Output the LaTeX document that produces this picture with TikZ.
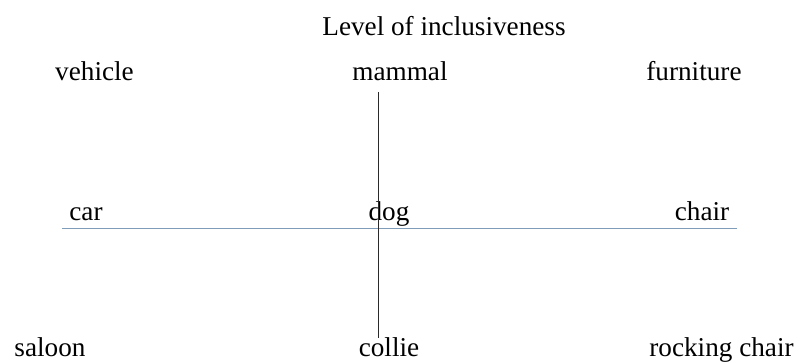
\documentclass[tikz,border=0pt]{standalone}
\usepackage{fontspec}
\setmainfont{Liberation Serif}
\definecolor{hline}{HTML}{7F9CB8}
\definecolor{vline}{HTML}{2A2A2A}
\begin{document}
\begin{tikzpicture}[x=1pt,y=-1pt,
  lbl/.style={anchor=base,inner sep=0pt,font=\fontsize{27.2}{30}\selectfont},
  axis/.style={line width=1pt}]
\useasboundingbox (0,0) rectangle (798,363);
\node[lbl] (title) at (444,36) {Level of inclusiveness};
\node[lbl] (vehicle) at (94.5,81) {vehicle};
\node[lbl] (mammal) at (400,81) {mammal};
\node[lbl] (furniture) at (694,81) {furniture};
\node[lbl] (car) at (86,221) {car};
\node[lbl] (dog) at (389,221) {dog};
\node[lbl] (chair) at (702,221) {chair};
\node[lbl] (saloon) at (50,356) {saloon};
\node[lbl] (collie) at (389,356) {collie};
\node[lbl] (rocking) at (721.5,356) {rocking chair};
\coordinate (hl) at (62,229);
\coordinate (hr) at (737,229);
\coordinate (vt) at (378,92);
\coordinate (vb) at (378,338);
\draw[axis,hline] (hl) -- (hr);
\draw[axis,vline] (vt) -- (vb);
\end{tikzpicture}
\end{document}
